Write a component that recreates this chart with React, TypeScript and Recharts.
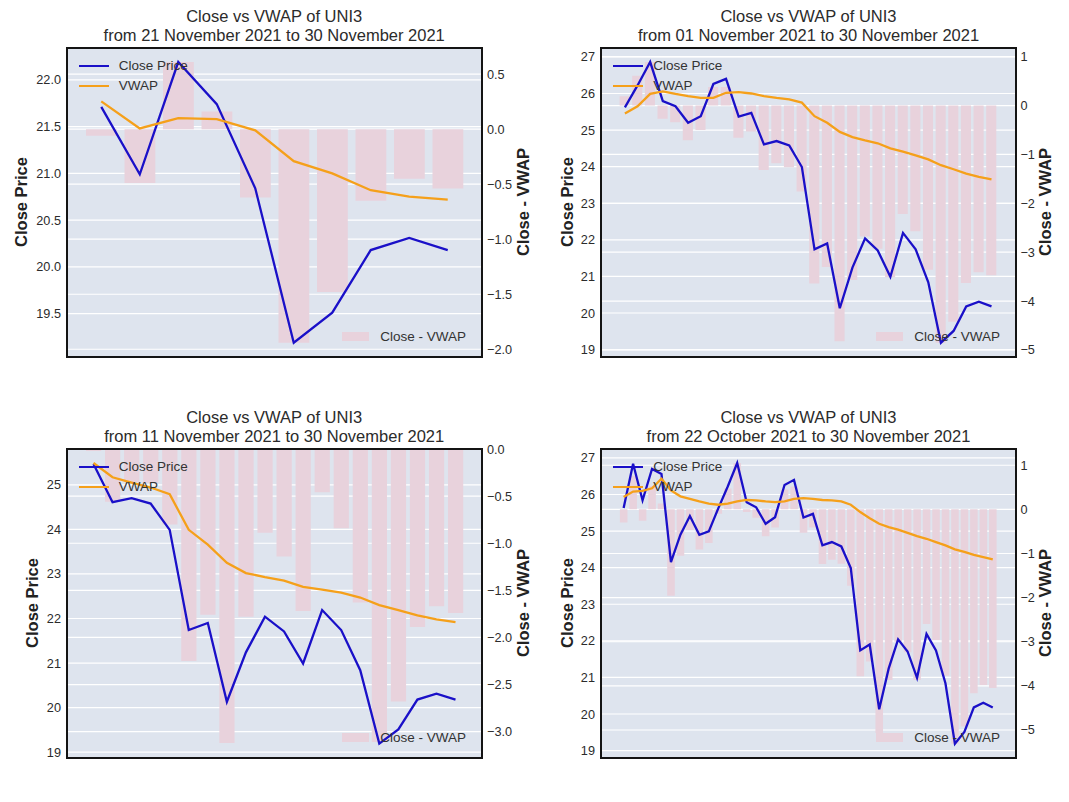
import React from 'react';
import { ComposedChart, Bar, Line, XAxis, YAxis, CartesianGrid } from 'recharts';

// daily close of UNI3, 22 Oct 2021 -> 30 Nov 2021
const closeAll = [
  25.63, 26.84, 25.84, 26.7, 26.56, 24.15, 24.9, 25.41, 24.9, 24.99,
  25.62, 26.22, 26.86, 25.79, 25.65, 25.2, 25.38, 26.26, 26.4, 25.37,
  25.47, 24.61, 24.7, 24.58, 23.99, 21.74, 21.9, 20.13, 21.24, 22.04,
  21.71, 20.99, 22.19, 21.74, 20.84, 19.19, 19.51, 20.18, 20.31, 20.18,
];

// cumulative VWAP, one series per start date
const vwap21Nov = [21.77, 21.48, 21.59, 21.58, 21.46, 21.13, 21.0, 20.82, 20.75, 20.72];
const vwap01Nov = [
  25.45, 25.65, 25.99, 26.06, 25.99, 25.93, 25.88, 25.88, 26.02, 26.04,
  26.0, 25.93, 25.88, 25.84, 25.75, 25.38, 25.2, 24.95, 24.81, 24.72,
  24.64, 24.5, 24.41, 24.31, 24.2, 24.04, 23.93, 23.81, 23.72, 23.65,
];
const vwap11Nov = [
  25.49, 25.17, 25.05, 24.94, 24.79, 23.99, 23.66, 23.25, 23.02, 22.93,
  22.85, 22.71, 22.65, 22.58, 22.47, 22.3, 22.19, 22.07, 21.98, 21.92,
];
const vwap22Oct = [
  25.93, 26.08, 26.1, 26.17, 26.43, 26.11, 25.95, 25.88, 25.81, 25.75,
  25.72, 25.75, 25.81, 25.85, 25.84, 25.81, 25.79, 25.81, 25.88, 25.9,
  25.88, 25.85, 25.84, 25.81, 25.72, 25.52, 25.35, 25.2, 25.11, 25.04,
  24.95, 24.86, 24.79, 24.7, 24.61, 24.5, 24.43, 24.35, 24.29, 24.23,
];

// close - vwap bars
const diff21Nov = [-0.06, -0.49, 0.61, 0.16, -0.62, -1.94, -1.48, -0.65, -0.45, -0.54];
const diff01Nov = [
  0.19, 0.61, 0.89, -0.27, -0.34, -0.71, -0.5, 0.38, 0.38, -0.66,
  -0.53, -1.32, -1.18, -1.26, -1.76, -3.64, -3.3, -4.82, -3.57, -2.68,
  -2.93, -3.51, -2.22, -2.57, -3.36, -4.85, -4.42, -3.63, -3.41, -3.47,
];
const diff11Nov = [
  -0.02, -0.56, -0.35, -0.36, -0.8, -2.25, -1.76, -3.12, -1.78, -0.89,
  -1.14, -1.72, -0.46, -0.84, -1.63, -3.11, -2.68, -1.89, -1.67, -1.74,
];
const diff22Oct = [
  -0.3, 0.76, -0.26, 0.53, 0.13, -1.96, -1.05, -0.47, -0.91, -0.76,
  -0.1, 0.47, 1.05, -0.06, -0.19, -0.61, -0.41, 0.45, 0.52, -0.53,
  -0.41, -1.24, -1.14, -1.23, -1.73, -3.78, -3.45, -5.07, -3.87, -3.0,
  -3.24, -3.87, -2.6, -2.96, -3.77, -5.31, -4.92, -4.17, -3.98, -4.05,
];

const ticksPrice05 = [19.5, 20.0, 20.5, 21.0, 21.5, 22.0];
const ticksPrice1 = [19, 20, 21, 22, 23, 24, 25, 26, 27];
const ticksPrice1Short = [19, 20, 21, 22, 23, 24, 25];
const ticksDiffA = [-2.0, -1.5, -1.0, -0.5, 0.0, 0.5];
const ticksDiffB = [-5, -4, -3, -2, -1, 0, 1];
const ticksDiffC = [-3.0, -2.5, -2.0, -1.5, -1.0, -0.5, 0.0];

const FONT = '"Liberation Sans", Arial, Helvetica, sans-serif';
const TEXT = '#2b2b2b';
const BLUE = '#1a10c8';
const ORANGE = '#f5a01a';
const PINK = '#e8d2dc';
const BG = '#dee4ee';
const AX = 60;
const PADV = 12;

const panels = [
  {
    period: 'from 21 November 2021 to 30 November 2021',
    close: closeAll.slice(30), vwap: vwap21Nov, diff: diff21Nov,
    leftTicks: ticksPrice05, leftDec: 1, rightTicks: ticksDiffA, rightDec: 1,
    x: 66.7, y: 48, w: 415, h: 308.7, leftLabel: 21, rightLabel: 41.7,
  },
  {
    period: 'from 01 November 2021 to 30 November 2021',
    close: closeAll.slice(10), vwap: vwap01Nov, diff: diff01Nov,
    leftTicks: ticksPrice1, leftDec: 0, rightTicks: ticksDiffB, rightDec: 0,
    x: 601.3, y: 48, w: 414.4, h: 308.7, leftLabel: 567, rightLabel: 29.4,
  },
  {
    period: 'from 11 November 2021 to 30 November 2021',
    close: closeAll.slice(20), vwap: vwap11Nov, diff: diff11Nov,
    leftTicks: ticksPrice1Short, leftDec: 0, rightTicks: ticksDiffC, rightDec: 1,
    x: 66.7, y: 449, w: 415, h: 308.7, leftLabel: 32, rightLabel: 41,
  },
  {
    period: 'from 22 October 2021 to 30 November 2021',
    close: closeAll, vwap: vwap22Oct, diff: diff22Oct,
    leftTicks: ticksPrice1, leftDec: 0, rightTicks: ticksDiffB, rightDec: 0,
    x: 601.3, y: 449, w: 414.4, h: 308.7, leftLabel: 567, rightLabel: 29.4,
  },
];

const fmt = (dec: number) => (v: number) => v.toFixed(dec).replace('-', '\u2212');

function VLabel({ x, y, text }: { x: number; y: number; text: string }) {
  return (
    <div
      style={{
        position: 'absolute', left: x, top: y, transform: 'translate(-50%, -50%) rotate(-90deg)',
        whiteSpace: 'nowrap', fontWeight: 'bold', fontSize: 16.5, color: '#222',
      }}
    >
      {text}
    </div>
  );
}

function Panel({ p }: { p: (typeof panels)[number] }) {
  const n = p.close.length;
  const rows = p.close.map((c, i) => ({ i, close: c, vwap: p.vwap[i], diff: p.diff[i] }));

  // matplotlib-like limits: 5% margins, bars stick to zero
  const m = 0.4 + 0.05 * (n - 0.2);
  const barSize = (p.w / (n - 1 + 2 * m)) * 0.8;
  const prices = [...p.close, ...p.vwap];
  const lo = Math.min(...prices);
  const hi = Math.max(...prices);
  const dlo = Math.min(0, ...p.diff);
  const dhi = Math.max(0, ...p.diff);
  const dr = dhi - dlo;
  const leftDomain = [lo - 0.05 * (hi - lo), hi + 0.05 * (hi - lo)];
  const rightDomain = [dlo === 0 ? 0 : dlo - 0.05 * dr, dhi === 0 ? 0 : dhi + 0.05 * dr];
  const cy = p.y + p.h / 2;
  const legendText = { position: 'absolute' as const, fontSize: 13.5, color: '#333', lineHeight: '16px', whiteSpace: 'nowrap' as const };

  return (
    <>
      <div
        style={{
          position: 'absolute', left: p.x, top: p.y - 41, width: p.w, textAlign: 'center',
          fontSize: 16.5, lineHeight: '18.7px', color: TEXT,
        }}
      >
        Close vs VWAP of UNI3
        <br />
        {p.period}
      </div>
      <div style={{ position: 'absolute', left: p.x - AX, top: p.y - PADV }}>
        <ComposedChart
          width={p.w + 2 * AX}
          height={p.h + 2 * PADV}
          data={rows}
          margin={{ top: PADV, bottom: PADV, left: 0, right: 0 }}
        >
          <CartesianGrid yAxisId="left" vertical={false} stroke="#fff" strokeWidth={1.2} fill={BG} fillOpacity={1} />
          <CartesianGrid yAxisId="right" vertical={false} stroke="#fff" strokeWidth={1.2} />
          <XAxis type="number" dataKey="i" domain={[-m, n - 1 + m]} hide allowDataOverflow />
          <YAxis
            yAxisId="left"
            width={AX}
            domain={leftDomain}
            ticks={p.leftTicks}
            allowDataOverflow
            tickFormatter={fmt(p.leftDec)}
            tick={{ fill: TEXT, fontSize: 12.7, fontFamily: FONT }}
            tickLine={false}
            axisLine={false}
            tickSize={0}
            tickMargin={6}
            interval={0}
          />
          <YAxis
            yAxisId="right"
            orientation="right"
            width={AX}
            domain={rightDomain}
            ticks={p.rightTicks}
            allowDataOverflow
            tickFormatter={fmt(p.rightDec)}
            tick={{ fill: TEXT, fontSize: 12.7, fontFamily: FONT, textAnchor: 'start' }}
            tickLine={false}
            axisLine={false}
            tickSize={0}
            tickMargin={5}
            interval={0}
          />
          <Bar yAxisId="right" dataKey="diff" fill={PINK} barSize={barSize} isAnimationActive={false} />
          <Line yAxisId="left" type="linear" dataKey="close" stroke={BLUE} strokeWidth={2.3} dot={false} isAnimationActive={false} />
          <Line yAxisId="left" type="linear" dataKey="vwap" stroke={ORANGE} strokeWidth={2.3} dot={false} isAnimationActive={false} />
        </ComposedChart>
      </div>
      <div
        style={{
          position: 'absolute', left: p.x - 1, top: p.y - 1, width: p.w + 2, height: p.h + 2,
          border: '2px solid #141414', boxSizing: 'border-box', pointerEvents: 'none',
        }}
      />
      {/* legends */}
      <div style={{ position: 'absolute', left: p.x + 12, top: p.y + 17, width: 30, height: 2.3, background: BLUE }} />
      <div style={{ ...legendText, left: p.x + 52, top: p.y + 10 }}>Close Price</div>
      <div style={{ position: 'absolute', left: p.x + 12, top: p.y + 36.5, width: 30, height: 2.3, background: ORANGE }} />
      <div style={{ ...legendText, left: p.x + 52, top: p.y + 29.5 }}>VWAP</div>
      <div style={{ position: 'absolute', left: p.x + p.w - 140, top: p.y + p.h - 24.5, width: 27, height: 9, background: PINK }} />
      <div style={{ ...legendText, left: p.x + p.w - 101.5, top: p.y + p.h - 28 }}>Close - VWAP</div>
      <VLabel x={p.leftLabel} y={cy} text="Close Price" />
      <VLabel x={p.x + p.w + p.rightLabel} y={cy} text="Close - VWAP" />
    </>
  );
}

export default function App() {
  return (
    <div
      style={{
        position: 'absolute', left: 0, top: 0, width: 1069, height: 802, background: '#fff',
        overflow: 'hidden', fontFamily: FONT,
      }}
    >
      {panels.map((p) => (
        <Panel key={p.period} p={p} />
      ))}
    </div>
  );
}
